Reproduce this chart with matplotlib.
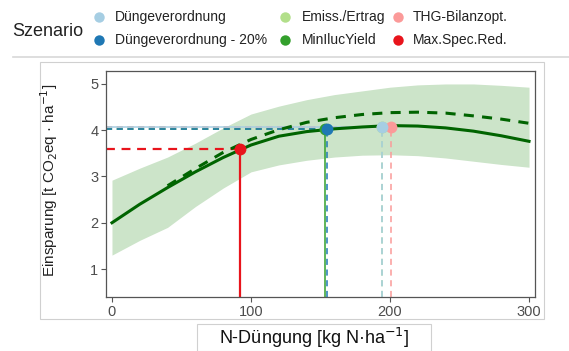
import matplotlib
matplotlib.use("Agg")
import matplotlib.pyplot as plt
from matplotlib.lines import Line2D
from matplotlib.patches import Rectangle

plt.rcParams['font.family'] = ['Liberation Sans', 'DejaVu Sans']

# ---------------- data ----------------
n_grid = [0, 20, 40, 60, 80, 100, 120, 140, 160, 180, 200, 220, 240, 260, 280, 300]
curve_solid = [2.00, 2.40, 2.76, 3.10, 3.41, 3.68, 3.87, 3.97, 4.03, 4.07, 4.10, 4.09, 4.05, 3.98, 3.88, 3.76]
band_upper = [2.92, 3.18, 3.42, 3.72, 4.05, 4.35, 4.52, 4.66, 4.77, 4.85, 4.93, 4.98, 5.00, 5.00, 4.97, 4.93]
band_lower = [1.30, 1.62, 1.90, 2.35, 2.75, 3.10, 3.25, 3.35, 3.42, 3.46, 3.47, 3.45, 3.40, 3.33, 3.26, 3.20]
dash_grid = [40, 60, 80, 100, 120, 140, 160, 180, 200, 220, 240, 260, 280, 300]
curve_dashed = [2.80, 3.17, 3.52, 3.80, 4.01, 4.17, 4.27, 4.34, 4.38, 4.39, 4.37, 4.31, 4.24, 4.15]

scen_names = ["Düngeverordnung", "Düngeverordnung - 20%", "Emiss./Ertrag",
              "MinIlucYield", "THG-Bilanzopt.", "Max.Spec.Red."]
scen_colors = ["#A6CEE3", "#1F78B4", "#B2DF8A", "#33A02C", "#FB9A99", "#E8141C"]
scen_n = [194, 155, 194, 153, 201, 92]
scen_y = [4.08, 4.02, 4.08, 4.02, 4.08, 3.59]
scen_vstyle = ["dashed", "dashed", "dashed", "solid", "dashed", "solid"]
scen_hstyle = ["solid", "dashed", "dashed", "dashed", "dashed", "dashed"]
draw_order = [2, 3, 4, 0, 1, 5]

x_ticks = [0, 100, 200, 300]
y_ticks = [1, 2, 3, 4, 5]
xlim = (-4.3, 304.3)
ylim = (0.395, 5.28)

# ---------------- figure ----------------
W, H = 569, 351
fig = plt.figure(figsize=(W / 100, H / 100), dpi=100)

def fx(px):
    return px / W

def fy(py):
    return 1 - py / H

# outer panel box and legend rule
fig.add_artist(Rectangle((fx(40), fy(319)), fx(544) - fx(40), fy(62) - fy(319),
                         transform=fig.transFigure, fill=False, ec="#d0d0d0", lw=0.8))
fig.add_artist(Line2D([fx(13), fx(569)], [fy(57), fy(57)], transform=fig.transFigure,
                      color="#d8d8d8", lw=1.2))
# x label box
fig.add_artist(Rectangle((fx(197), fy(351)), fx(431) - fx(197), fy(324) - fy(351),
                         transform=fig.transFigure, fill=False, ec="#d0d0d0", lw=0.8))

ax = fig.add_axes([fx(106), fy(297), fx(535) - fx(106), fy(71) - fy(297)])
ax.set_xlim(*xlim)
ax.set_ylim(*ylim)

ax.fill_between(n_grid, band_lower, band_upper, color="#cce4c9", lw=0, zorder=1)

dash = (0, (4, 3))
for i in draw_order:
    name, c, n, y = scen_names[i], scen_colors[i], scen_n[i], scen_y[i]
    vls = "-" if scen_vstyle[i] == "solid" else dash
    hls = "-" if scen_hstyle[i] == "solid" else dash
    lw = 1.6 if name == "Max.Spec.Red." else 1.1
    ax.plot([n, n], [ylim[0], y], color=c, lw=lw, ls=vls, zorder=2)
    ax.plot([xlim[0], n], [y, y], color=c, lw=lw, ls=hls, zorder=2)

ax.plot(dash_grid, curve_dashed, color="#006400", lw=2.2, ls=(0, (3.3, 2.7)), zorder=3)
ax.plot(n_grid, curve_solid, color="#006400", lw=2.2, zorder=3)

for i in draw_order:
    ax.plot([scen_n[i]], [scen_y[i]], "o", color=scen_colors[i], ms=8.5, mec="none", zorder=4)

ax.set_xticks(x_ticks)
ax.set_yticks(y_ticks)
ax.tick_params(direction="out", length=3.5, width=0.8, color="#555555",
               labelcolor="#4d4d4d", labelsize=10.5, pad=2)
for s in ax.spines.values():
    s.set_color("#555555")
    s.set_linewidth(0.9)

fig.text(fx(49), fy(180), "Einsparung [t CO$_2$eq · ha$^{-1}$]", rotation=90,
         ha="center", va="center", fontsize=11, color="#222222")
fig.text(fx(314), fy(338), "N-Düngung [kg N·ha$^{-1}$]", ha="center", va="center",
         fontsize=13, color="#111111")

# ---------------- legend ----------------
fig.text(fx(12), fy(32), "Szenario", ha="left", va="center", fontsize=13, color="#222222")
col_marker_x = [99, 285, 398]
col_text_x = [115, 302, 413]
row_y = [17, 40]
order = [(0, 0), (0, 1), (1, 0), (1, 1), (2, 0), (2, 1)]
for (col, row), name, c in zip(order, scen_names, scen_colors):
    fig.add_artist(Line2D([fx(col_marker_x[col])], [fy(row_y[row])], marker="o",
                          ms=7.5, color=c, mec="none", transform=fig.transFigure))
    fig.text(fx(col_text_x[col]), fy(row_y[row]), name, ha="left", va="center",
             fontsize=10, color="#222222")

fig.savefig("out.png", dpi=100)
